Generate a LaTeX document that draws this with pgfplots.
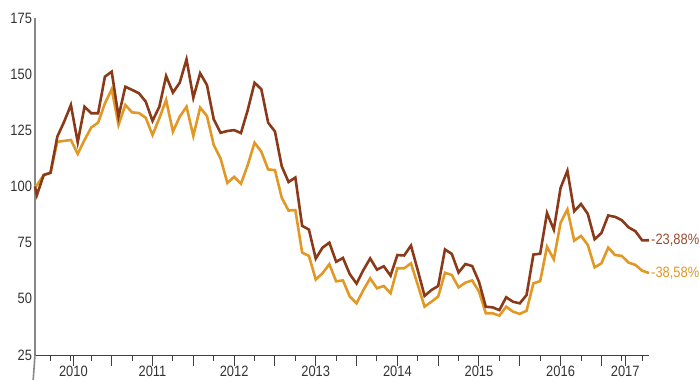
\documentclass[border=0pt]{standalone}
\usepackage{fontspec}
\setmainfont{Liberation Sans}[FakeStretch=0.86]
\usepackage{pgfplots}
\usepackage{pgfplotstable}
\pgfplotsset{compat=1.18}
\definecolor{brownline}{RGB}{139,58,25}
\definecolor{goldline}{RGB}{226,152,36}
\definecolor{axisgray}{RGB}{135,135,135}
\definecolor{textgray}{RGB}{51,51,51}
\pgfplotstableread{
k b g
0.72 100 100
1 96.2 100.5
2 105.1 105.1
3 106.1 106.1
4 122.2 119.9
5 128.8 120.3
6 136.3 120.7
7 119.7 114.5
8 135.5 120.7
9 132.6 126.3
10 132.6 128.4
11 148.9 137.0
12 151.1 143.3
13 131.1 127.4
14 144.4 136.3
15 143.0 133.0
16 141.5 132.7
17 137.8 130.6
18 129.2 122.9
19 135.5 130.4
20 149.2 138.5
21 141.8 124.4
22 146.2 131.1
23 156.6 135.5
24 139.5 122.5
25 150.4 135.1
26 145.2 131.4
27 129.9 118.5
28 123.9 112.5
29 124.7 101.6
30 125.1 104.3
31 123.8 101.2
32 134.0 109.6
33 146.2 119.5
34 143.3 115.5
35 128.4 107.6
36 124.5 107.3
37 109.0 95.0
38 102.0 89.3
39 104.0 89.5
40 82.5 70.6
41 80.8 69.1
42 67.9 58.6
43 72.8 61.4
44 75.0 65.4
45 66.5 57.8
46 68.2 58.2
47 61.0 51.0
48 56.8 48.0
49 62.8 53.9
50 68.0 59.1
51 63.0 54.7
52 64.5 55.7
53 60.3 52.5
54 69.5 63.6
55 69.3 63.6
56 73.7 65.8
57 62.7 56.2
58 51.3 46.5
59 53.9 48.7
60 55.7 51.0
61 72.0 61.6
62 70.0 60.6
63 61.7 55.1
64 65.5 57.2
65 64.6 58.2
66 57.6 53.2
67 46.5 43.6
68 46.2 43.6
69 45.0 42.5
70 50.7 46.5
71 48.7 44.3
72 48.0 43.3
73 51.7 44.7
74 69.7 56.9
75 70.1 57.9
76 88.2 73.2
77 80.8 67.6
78 99.4 83.9
79 107.0 89.8
80 89.0 75.9
81 92.2 78.0
82 87.8 74.0
83 76.5 64.0
84 79.3 65.8
85 87.1 72.8
86 86.5 69.5
87 85.0 69.1
88 81.8 66.1
89 80.1 65.1
90 76.0 62.5
91 76.1 61.5
}\datatable
\begin{document}
\begin{tikzpicture}
\useasboundingbox (0bp,0bp) rectangle (699bp,380bp);
\begin{axis}[
  at={(35bp,25bp)}, anchor=south west,
  width=614bp, height=337bp, scale only axis,
  xmin=0.72, xmax=91, ymin=25, ymax=175,
  axis x line*=bottom, axis y line*=left,
  x axis line style={-, draw=black!75, line width=1bp},
  y axis line style={-, draw=axisgray, line width=1.6bp},
  clip=false,
  tick align=outside,
  major tick length=11bp, minor tick length=6bp,
  xtick={12,24,36,48,60,72,84},
  xticklabels={},
  minor xtick={3,6,9,15,18,21,27,30,33,39,42,45,51,54,57,63,66,69,75,78,81,87,90},
  extra x ticks={6.36,18,30,42,54,66,78,87.5},
  extra x tick labels={2010,2011,2012,2013,2014,2015,2016,2017},
  extra x tick style={tick style={draw=none}},
  x tick style={draw=black!75, line width=1bp},
  ytick={25,50,75,100,125,150,175},
  y tick style={draw=none},
  ticklabel style={font=\fontsize{15bp}{17bp}\selectfont, text=textgray},
  /pgf/number format/assume math mode=true,
  yticklabel style={xshift=11.5bp},
  xticklabel style={yshift=3bp},
]
\addplot[goldline, line width=2.6bp, line join=miter] table[x=k, y=g] {\datatable};
\addplot[brownline, line width=2.6bp, line join=miter] table[x=k, y=b] {\datatable};
\draw[axisgray, line width=1.6bp] (rel axis cs:0,0) -- ++(0,-11bp);
\node[anchor=west, inner sep=0pt, xshift=2bp, text=brownline!90!white, font=\fontsize{15bp}{17bp}\selectfont] at (axis cs:91,76.1) {-23,88\%};
\node[anchor=west, inner sep=0pt, xshift=2bp, text=goldline, font=\fontsize{15bp}{17bp}\selectfont] at (axis cs:91,61.5) {-38,58\%};
\end{axis}
\end{tikzpicture}
\end{document}
